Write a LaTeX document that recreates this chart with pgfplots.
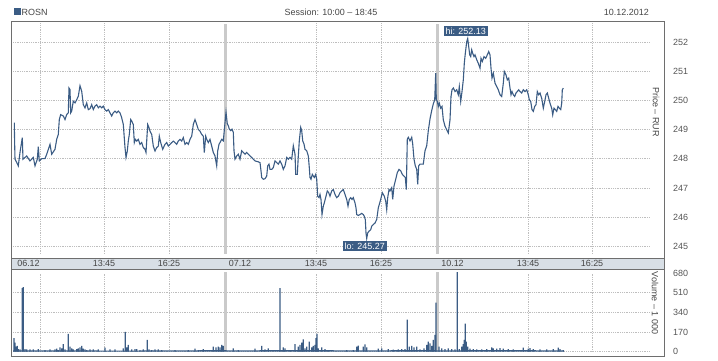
\documentclass[border=0pt]{standalone}
\usepackage{pgfplots}
\pgfplotsset{compat=1.18}
\usepackage{fontspec}
\setmainfont{Liberation Sans}
\definecolor{bluec}{RGB}{59,92,132}
\definecolor{framec}{RGB}{110,110,110}
\definecolor{gridc}{RGB}{190,190,190}
\definecolor{sepc}{RGB}{202,202,202}
\definecolor{bandc}{RGB}{216,223,230}
\definecolor{textc}{RGB}{70,70,70}
\definecolor{tickc}{RGB}{85,85,85}
\begin{document}
\begin{tikzpicture}[x=1bp,y=1bp,font=\fontsize{9}{10}\selectfont]
\path[use as bounding box] (0,0) rectangle (718,360);
% header
\fill[bluec] (14,345) rectangle (20.7,351.5);
\node[anchor=west,inner sep=0pt,text=textc] at (21.5,348) {ROSN};
\node[inner sep=0pt,text=textc] at (331,348) {Session: 10:00 \textendash\ 18:45};
\node[anchor=east,inner sep=0pt,text=textc] at (649,348) {10.12.2012};
% price panel
\begin{axis}[at={(11bp,102bp)}, anchor=south west, scale only axis,
  width=653bp, height=237bp,
  xmin=11, xmax=664, ymin=244.60, ymax=252.73,
  xtick=\empty, ytick={245,246,...,252},
  ytick pos=right, yticklabel pos=right, major tick length=0pt,
  /pgf/number format/assume math mode=true,
  yticklabel style={font=\fontsize{9}{10}\selectfont, text=tickc, anchor=west, inner sep=0pt, xshift=9bp},
  axis line style={draw=framec, line width=1bp}, clip=false]
\pgfplotsinvokeforeach{245,246,247,248,249,250,251,252}{\draw[gridc, densely dotted, line width=0.8bp] (axis cs:13,#1) -- (axis cs:649,#1);}
\pgfplotsinvokeforeach{40,104,169,316,381,528,592}{\draw[gridc, densely dotted, line width=0.8bp] (axis cs:#1,244.74) -- (axis cs:#1,252.66);}
\draw[sepc, line width=3bp] (axis cs:225,244.74) -- (axis cs:225,252.63);
\draw[sepc, line width=3bp] (axis cs:437.5,244.74) -- (axis cs:437.5,252.63);
\addplot[bluec, line width=1.1bp] coordinates {
(14.3,249.24)(14.6,248.61)(15,247.99)(16.7,247.88)(18.3,247.76)(20,248.22)(22.3,248.73)(23,247.99)
(26.7,248.10)(30,247.93)(33.3,248.05)(35,247.76)(37.3,247.99)(38.3,248.42)(39.3,247.93)(41.7,248.01)
(45,248.01)(46.7,248.16)(50,248.50)(51.7,248.16)(55,248.33)(56.7,248.67)(58.3,248.84)(59.3,249.35)
(60.7,249.52)(63.3,249.47)(65,249.35)(66.7,249.52)(68.3,249.58)(69,250.43)(70,250.38)(70.7,249.58)
(71.7,249.64)(73.3,249.98)(75,249.92)(76.7,250.03)(78.3,250.15)(80,250.51)(81.7,250.32)(83.3,249.86)
(85,249.75)(86.7,249.92)(88.3,249.69)(90,249.72)(91.7,249.86)(93.3,249.69)(95,249.81)(96.7,249.86)
(98.3,249.75)(100,249.81)(101.7,249.75)(103.3,249.81)(105,249.69)(106.7,249.64)(108.3,249.69)
(111.7,249.47)(113.3,249.58)(115,249.64)(116.7,249.58)(118.3,249.64)(120,249.58)(121.7,249.41)
(123.3,249.18)(125,248.39)(126,248.05)(127.3,248.27)(128.3,248.61)(129.3,248.84)(130.7,249.35)
(131.7,249.30)(133.3,249.18)(134.3,248.56)(135.3,248.67)(136.7,248.61)(138.3,248.67)(140,248.50)
(141.7,248.56)(143.3,248.39)(145,248.33)(146,248.22)(147.7,249.18)(149,249.07)(150,248.95)
(151.7,248.84)(153.3,248.44)(155,248.27)(156.7,248.39)(158.3,248.44)(159.3,248.78)(160.7,248.56)
(162.7,248.33)(165,248.50)(166.7,248.56)(168.3,248.44)(170,248.50)(171.7,248.56)(173.3,248.61)
(175,248.56)(176.7,248.50)(178.3,248.61)(180,248.67)(181.7,248.61)(183.3,248.73)(185,248.50)
(186.7,248.56)(188.3,248.50)(190,248.67)(191.7,248.78)(193.3,249.18)(195,249.35)(196.7,249.18)
(198.3,249.01)(200,248.95)(201.7,248.84)(203.3,248.78)(204.3,248.22)(205.7,248.78)(206.7,248.67)
(208.3,248.56)(210,248.67)(211.7,248.44)(213.3,248.22)(215,248.10)(216.7,247.76)(217.7,248.27)
(219,248.50)(220,248.56)(221.7,248.67)(223.3,248.62)(226,249.60)(227.3,249.20)(228.3,249.14)
(229.3,249.02)(230.7,248.97)(232,249.02)(233.3,248.91)(234,248.28)(235,247.99)(236.7,248.10)
(238.3,248.16)(240,247.99)(241.7,248.28)(243.3,248.22)(245,248.16)(246.7,248.22)(248.3,248.16)
(250,248.10)(251.7,248.05)(253.3,247.99)(255,247.93)(258.3,247.90)(260,247.87)(261,247.59)
(261.7,247.36)(263.3,247.30)(265,247.32)(266.7,247.41)(267.7,247.76)(269,247.82)(270,247.64)
(271.7,247.64)(273.3,247.70)(275,247.93)(276.7,247.87)(278.3,247.82)(280,247.93)(281.7,247.82)
(283.3,247.64)(285,247.76)(286.7,248.05)(288.3,247.99)(290,248.05)(291.7,247.99)(293.3,248.45)
(295,248.16)(295.7,247.47)(297.3,247.47)(298.3,248.10)(299.3,248.62)(300.7,249.08)(301.7,248.97)
(302.7,248.62)(304,248.51)(305,248.33)(306.7,248.28)(308.3,248.10)(309.3,247.70)(310,247.36)
(311,247.30)(312.3,247.47)(313.3,247.41)(314.3,247.36)(315.7,247.47)(316.7,247.30)(317.7,246.72)
(319,246.67)(320,246.78)(321,246.61)(322,246.09)(323.3,246.38)(324.3,246.49)(326,246.72)
(327.3,246.90)(328.7,246.84)(330,246.72)(331.7,246.90)(333.3,246.95)(335,246.78)(336.7,246.67)
(338.3,246.72)(340,246.84)(341.7,246.90)(343.3,246.95)(345,246.78)(346.7,246.61)(348,246.38)
(349.3,246.61)(350.7,246.67)(352,246.61)(353.3,246.67)(355,246.49)(356,246.32)(356.7,246.09)
(358.3,246.06)(360,246.09)(361.7,246.13)(363.3,246.09)(364.3,246.03)(365.3,245.92)(366,245.46)
(366.7,245.27)(367.7,245.46)(369,245.52)(370.7,245.57)(371.7,245.69)(373.3,245.75)(375,245.80)
(376.7,245.92)(378.3,246.32)(379.3,246.44)(380.7,246.61)(382.3,246.84)(383.3,246.78)(384.3,246.72)
(385.7,246.55)(386.7,246.26)(387.7,246.67)(389,246.95)(390,246.90)(391.7,247.01)(392.7,246.61)
(394,247.07)(395.7,247.30)(397.3,247.53)(399,247.64)(400.7,247.59)(402.3,247.47)(404,247.41)
(405.3,247.36)(406.3,246.95)(407.3,248.68)(408.3,248.74)(410,248.62)(411.7,248.74)(412.7,248.51)
(414,247.99)(415.3,247.76)(416.7,247.64)(417.7,247.13)(418.7,247.76)(420,247.82)(421.7,247.82)
(423.3,247.82)(425,248.28)(426.7,248.45)(428.3,248.97)(430,249.37)(431.7,249.66)(433.3,249.89)
(434.7,250.03)(435.7,250.94)(436.3,250.03)(437.3,249.97)(438.3,249.80)(439.3,249.91)(440.7,249.74)
(442,249.80)(443.3,249.34)(445,249.12)(446.7,249.00)(448.3,248.89)(450,249.34)(451,250.14)
(452,250.37)(453.3,250.43)(455,250.31)(456.7,250.37)(458.3,250.20)(459.3,250.48)(460.7,249.97)
(462,250.31)(463.3,250.71)(464.3,251.28)(465.3,251.62)(466.7,252.02)(467.7,252.13)(468.7,251.85)
(469.7,251.57)(470.7,251.51)(471.7,251.74)(472.7,251.62)(474,251.51)(475,251.57)(476.7,251.40)
(478.3,251.28)(480,251.11)(481,251.45)(482.3,251.34)(484,251.51)(485.7,251.45)(487.3,251.57)
(488.7,251.68)(490,251.57)(491,251.11)(492,250.77)(493.3,250.94)(495,250.60)(496.7,250.48)
(498.3,250.37)(500,250.20)(501.7,250.14)(503.3,250.60)(504.3,251.00)(506,250.88)(507.3,250.71)
(508.7,250.77)(510,250.43)(511,250.20)(512,250.31)(513.3,250.20)(514.7,250.14)(516,250.26)
(517.3,250.31)(518.7,250.37)(520,250.31)(521.7,250.26)(523.3,250.37)(525,250.31)(526.7,250.37)
(528.3,250.20)(529.3,250.03)(530.7,249.97)(532,249.69)(533.3,249.63)(534.7,249.80)(536,249.86)
(537.3,250.31)(538.7,250.20)(540,250.26)(541.7,250.08)(543.3,249.74)(544.7,249.97)(546,250.20)
(547.3,250.26)(548.7,250.08)(550,249.91)(551.7,249.74)(552.7,249.51)(554,249.74)(555.3,249.69)
(556.7,249.63)(558,249.80)(559.3,249.74)(560.7,249.69)(561.7,249.91)(562.3,250.37)(563.3,250.43)
};
\node[fill=bluec, text=white, anchor=south, inner xsep=2bp, inner ysep=1.2bp, text height=6.6bp, text depth=0.4bp, yshift=2.5bp] at (axis cs:465.8,252.13) {hi: 252.13};
\node[fill=bluec, text=white, anchor=north, inner xsep=2bp, inner ysep=1.2bp, text height=6.6bp, text depth=0.4bp, yshift=-2.6bp] at (axis cs:364.7,245.27) {lo: 245.27};
\end{axis}
\node[rotate=-90, inner sep=0pt, text=textc] at (656,248) {Price \textendash\ RUR};
% band
\filldraw[fill=bandc, draw=framec, line width=1bp] (11,91) rectangle (664,102);
\foreach \xx/\lab in {28.5/06.12, 104/13:45, 169/16:25, 240/07.12, 316/13:45, 381/16:25, 452.5/10.12, 528/13:45, 592/16:25}
  {\node[inner sep=0pt, text=textc] at (\xx,96.3) {\lab};}
% volume panel
\begin{axis}[at={(11bp,4bp)}, anchor=south west, scale only axis,
  width=653bp, height=87bp,
  xmin=11, xmax=664, ymin=-37, ymax=717,
  xtick=\empty, ytick={0,170,340,510,680},
  ytick pos=right, yticklabel pos=right, major tick length=0pt,
  /pgf/number format/assume math mode=true,
  yticklabel style={font=\fontsize{9}{10}\selectfont, text=tickc, anchor=west, inner sep=0pt, xshift=9bp},
  axis line style={draw=framec, line width=1bp}, clip=false]
\pgfplotsinvokeforeach{0,170,340,510}{\draw[gridc, densely dotted, line width=0.8bp] (axis cs:13,#1) -- (axis cs:649,#1);}
\pgfplotsinvokeforeach{40,104,169,316,381,528,592}{\draw[gridc, densely dotted, line width=0.8bp] (axis cs:#1,0) -- (axis cs:#1,680);}
\draw[sepc, line width=3bp] (axis cs:225,0) -- (axis cs:225,690);
\draw[sepc, line width=3bp] (axis cs:437.5,0) -- (axis cs:437.5,690);
\addplot[fill=bluec, draw=none] coordinates {
(13,0)(13,12)(60,12)(120,10)(180,12)(224,14)(228,12)(300,14)(360,12)(430,14)(440,12)(500,14)(564,12)(564,0)};
\addplot[ybar, bar width=1.3, bar shift=0pt, fill=bluec, draw=none] coordinates {
(14,117)(15,79)(16,44)(17.3,50)(18.3,23)(20,20)(22.3,551)(23.3,560)(25,23)(26.7,20)(30,20)(33.3,20)
(38.3,23)(45,15)(50,20)(55,20)(56.7,26)(58.3,15)(60,38)(61.7,29)(63.3,67)(65,20)(68.3,155)(70,44)
(71.7,29)(73.3,20)(76.7,23)(78.3,29)(80,38)(81.7,50)(83.3,26)(85,20)(86.7,15)(90,20)(93.3,20)
(98.3,20)(105,35)(110,20)(115,20)(123.3,29)(125.3,173)(126.7,38)(128.3,59)(131.7,20)(135,23)
(136.7,23)(140,15)(143.3,20)(147.3,103)(149,20)(151.7,15)(155,20)(158.3,20)(161.7,15)(175,15)
(188.3,15)(195,26)(198.3,15)(203.3,23)(213.3,44)(216,38)(218.3,44)(220,38)(221.7,59)(223.3,50)
(233.3,29)(238.3,15)(255,26)(261.7,50)(265,20)(268.3,29)(280,551)(283.3,38)(285,29)(290,15)
(295,67)(298.3,44)(300,59)(301.7,79)(303.3,108)(305,29)(306.7,44)(309.3,88)(311.7,38)(313.3,50)
(315,59)(316,117)(317,155)(318.3,29)(321.7,38)(325,23)(328.3,15)(346.7,15)(353.3,15)(356.7,44)
(358.3,53)(363.3,44)(365,64)(366.7,38)(378.3,26)(381.7,29)(388.3,23)(393.3,18)(398.3,20)(401.7,23)
(405,23)(407.3,278)(409.3,44)(411.7,50)(414,38)(416.7,44)(420,20)(424,29)(426.7,59)(428.3,88)
(430,73)(431.7,50)(433.3,103)(435,147)(436,425)(439,44)(441.7,29)(445,23)(448.3,29)
(451.7,23)(455,20)(457.3,689)(459.3,23)(461.7,44)(463.3,67)(464.3,103)(465.3,243)(466.3,88)
(467.7,44)(470,26)(473.3,23)(476.7,20)(481.7,20)(486.7,23)(491.7,38)(493.3,29)(496.7,26)(500,32)
(503.3,26)(508.3,23)(513.3,20)(523.3,35)(528.3,26)(530,32)(533.3,23)(540,20)(546.7,20)(553.3,23)
(558.3,35)(560,23)(563.3,15)
};
\end{axis}
\node[rotate=-90, inner sep=0pt, text=textc] at (655,57) {Volume \textendash\ 1 000};
\end{tikzpicture}
\end{document}
